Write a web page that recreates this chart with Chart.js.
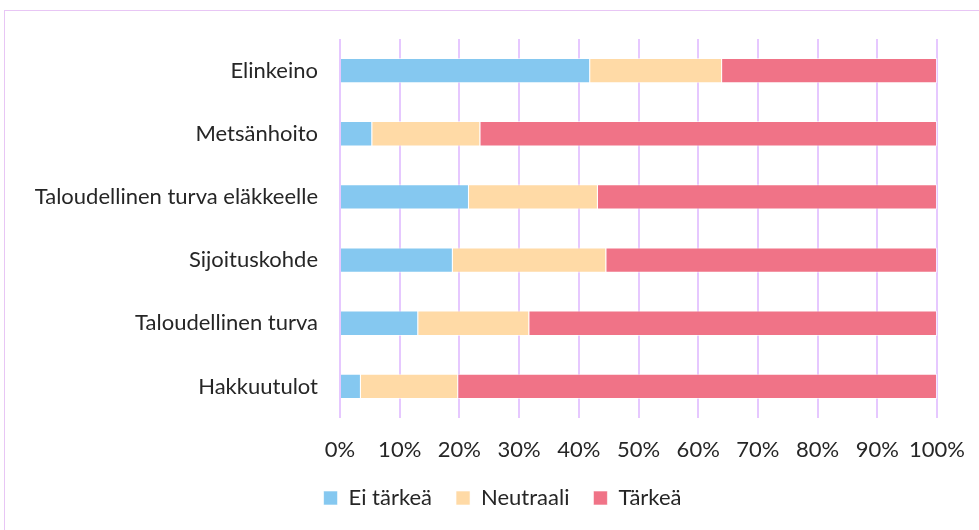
<!DOCTYPE html>
<html>
<head>
<meta charset="utf-8">
<script src="https://cdn.jsdelivr.net/npm/chart.js@4"></script>
<style>
  html, body { margin: 0; padding: 0; background: #fff; }
  #wrap { position: relative; width: 979px; height: 530px; overflow: hidden; }
  #frame { position: absolute; left: 4px; top: 10px; width: 1000px; height: 600px; border: 1px solid #e8c6f5; box-sizing: border-box; }
  canvas { position: absolute; left: 0; top: 0; }
</style>
</head>
<body>
<div id="wrap">
  <div id="frame"></div>
  <canvas id="chart" width="979" height="530"></canvas>
</div>
<script>
const categories = ['Elinkeino', 'Metsänhoito', 'Taloudellinen turva eläkkeelle', 'Sijoituskohde', 'Taloudellinen turva', 'Hakkuutulot'];
const eiTarkea = [41.9, 5.4, 21.6, 18.9, 13.1, 3.5];
const neutraali = [22.1, 18.1, 21.6, 25.7, 18.6, 16.3];
const tarkea = [36.0, 76.5, 56.8, 55.4, 68.3, 80.2];
const xTicks = [0, 10, 20, 30, 40, 50, 60, 70, 80, 90, 100];

const font = { family: 'Lato, "Open Sans", sans-serif', size: 22 };

function series(label, data, color) {
  return { label, data, backgroundColor: color, borderColor: 'rgba(255,255,255,0.6)', borderWidth: 1, barPercentage: 0.4, categoryPercentage: 1 };
}

// nudge the legend right so it sits where the original one is
const shiftLegend = {
  id: 'shiftLegend',
  afterLayout(chart) {
    chart.legend.left += 34;
    chart.legend.right += 34;
  },
};

new Chart(document.getElementById('chart'), {
  type: 'bar',
  data: {
    labels: categories,
    datasets: [
      series('Ei tärkeä', eiTarkea, '#85c8f0'),
      series('Neutraali', neutraali, '#ffdaa6'),
      series('Tärkeä', tarkea, '#f07387'),
    ],
  },
  plugins: [shiftLegend],
  options: {
    indexAxis: 'y',
    responsive: false,
    animation: false,
    layout: { padding: { top: 39, right: 42, left: 0, bottom: 11 } },
    scales: {
      x: {
        stacked: true, min: 0, max: 100,
        afterBuildTicks: (axis) => { axis.ticks = xTicks.map((v) => ({ value: v })); },
        afterFit: (axis) => { axis.height = 45; axis.paddingLeft = 0; axis.paddingRight = 0; },
        grid: { color: '#e6c8ff', lineWidth: 2, drawTicks: false },
        border: { display: false },
        ticks: { color: '#262626', font, padding: 19, maxRotation: 0, minRotation: 0, autoSkip: false, callback: (v) => v + '%' },
      },
      y: {
        stacked: true,
        grid: { display: false, drawTicks: false },
        border: { display: false },
        afterFit: (axis) => { axis.width = 340; },
        ticks: { color: '#262626', font, padding: 22 },
      },
    },
    plugins: {
      legend: {
        position: 'bottom',
        labels: { color: '#262626', font, boxWidth: 14, boxHeight: 14, padding: 24 },
      },
      tooltip: { enabled: false },
    },
  },
});
</script>
</body>
</html>
